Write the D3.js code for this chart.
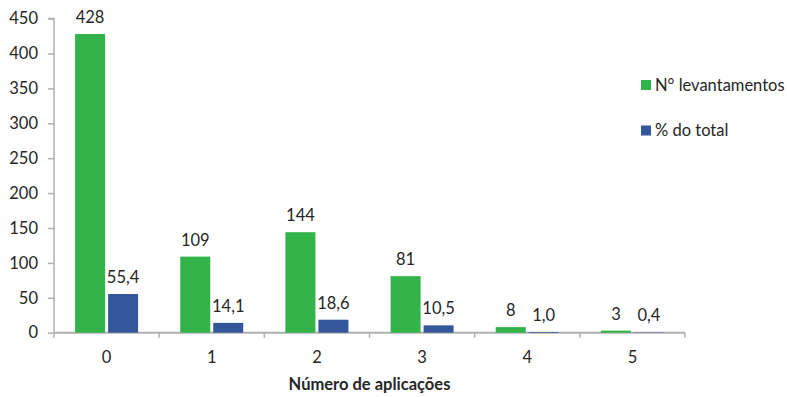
<!DOCTYPE html>
<html>
<head>
<meta charset="utf-8">
<script src="https://cdn.jsdelivr.net/npm/d3@7"></script>
<style>
    body { margin: 0; background: #fff; }
    text { font-family: Lato, "Open Sans", sans-serif; fill: #262626; }
</style>
</head>
<body>
<div id="chart"></div>
<script>
// data
const categories = ["0", "1", "2", "3", "4", "5"];
const levantamentos = [428, 109, 144, 81, 8, 3];
const percentTotal = [55.4, 14.1, 18.6, 10.5, 1.0, 0.4];
const seriesNames = ["N° levantamentos", "% do total"];
const yTicks = [0, 50, 100, 150, 200, 250, 300, 350, 400, 450];

const width = 787, height = 397;
const margin = {top: 18.6, right: 102, bottom: 64.3, left: 54};
const colors = ["#33b44a", "#34579b"];
const fs = "16.5px";

let svg = d3.select("#chart").append("svg")
    .attr("width", width)
    .attr("height", height);

let x = d3.scaleBand()
    .domain(categories)
    .range([margin.left, width - margin.right]);

let y = d3.scaleLinear()
    .domain([0, 450])
    .range([height - margin.bottom, margin.top]);

// y axis
let yAxis = svg.append("g")
    .attr("transform", `translate(${margin.left},0)`)
    .call(d3.axisLeft(y).tickValues(yTicks).tickSize(6).tickPadding(10));
yAxis.selectAll("path, line").attr("stroke", "#b0b0b0").attr("stroke-width", 1.5);
yAxis.select(".domain").attr("d", `M-6,${y(450)}H0V${y(0)}`);
yAxis.selectAll("text").style("font-size", fs).attr("fill", "#262626");

// x axis, ticks between categories
let xAxis = svg.append("g")
    .attr("transform", `translate(0,${y(0)})`);
xAxis.append("path")
    .attr("d", `M${margin.left},0H${width - margin.right}`)
    .attr("stroke", "#b0b0b0").attr("stroke-width", 2).attr("fill", "none");
let edges = categories.map(c => x(c)).concat([x.range()[1]]);
xAxis.selectAll(".xt").data(edges).enter()
    .append("line")
    .attr("class", "xt")
    .attr("x1", d => d).attr("x2", d => d)
    .attr("y1", 0).attr("y2", 5)
    .attr("stroke", "#b0b0b0").attr("stroke-width", 1.5);
xAxis.selectAll(".xl").data(categories).enter()
    .append("text")
    .attr("class", "xl")
    .attr("x", d => x(d) + x.bandwidth() / 2)
    .attr("y", 30)
    .attr("text-anchor", "middle")
    .style("font-size", fs)
    .text(d => d);

svg.append("text")
    .attr("x", (margin.left + width - margin.right) / 2)
    .attr("y", 390)
    .attr("text-anchor", "middle")
    .style("font-size", fs)
    .style("font-weight", "bold")
    .text("Número de aplicações");

// bars
const barW = 30, gap = 3;
let rows = categories.map((c, i) => ({cat: c, vals: [levantamentos[i], percentTotal[i]]}));

let groups = svg.selectAll(".grp").data(rows).enter()
    .append("g")
    .attr("class", "grp")
    .attr("transform", d => `translate(${x(d.cat) + x.bandwidth() / 2},0)`);

groups.selectAll("rect").data(d => d.vals).enter()
    .append("rect")
    .attr("x", (d, j) => j === 0 ? -barW - gap / 2 : gap / 2)
    .attr("width", barW)
    .attr("y", d => y(d))
    .attr("height", d => y(0) - y(d))
    .attr("fill", (d, j) => colors[j]);

groups.selectAll(".lbl").data(d => d.vals).enter()
    .append("text")
    .attr("class", "lbl")
    .attr("x", (d, j) => j === 0 ? -barW / 2 - gap / 2 : barW / 2 + gap / 2)
    .attr("y", d => y(d) - 11)
    .attr("text-anchor", "middle")
    .style("font-size", fs)
    .text((d, j) => j === 0 ? d : d.toFixed(1).replace(".", ","));

// legend
let legend = svg.selectAll(".leg").data(seriesNames).enter()
    .append("g")
    .attr("class", "leg")
    .attr("transform", (d, i) => `translate(641,${80 + i * 45.5})`);
legend.append("rect")
    .attr("width", 10).attr("height", 10)
    .attr("fill", (d, i) => colors[i]);
legend.append("text")
    .attr("x", 14).attr("y", 10.5)
    .style("font-size", fs)
    .text(d => d);
</script>
</body>
</html>
